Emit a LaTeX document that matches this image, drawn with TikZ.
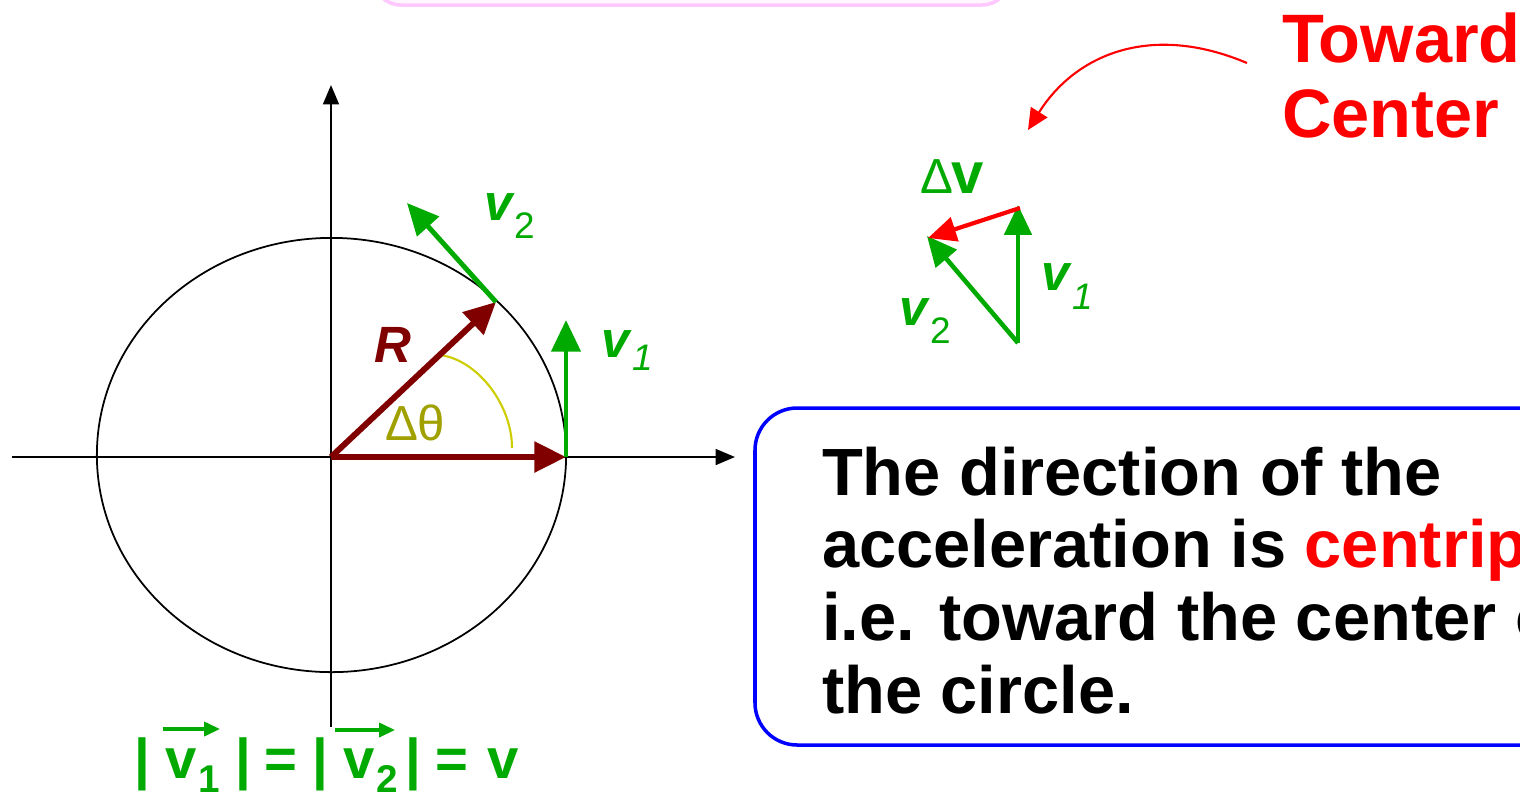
\documentclass[tikz,border=0pt]{standalone}
\usepackage{fontspec}
\setmainfont{Liberation Sans}
\usetikzlibrary{arrows.meta}
\definecolor{vgreen}{RGB}{0,170,0}
\definecolor{maroon}{RGB}{128,0,0}
\definecolor{vred}{RGB}{255,0,0}
\definecolor{olive}{RGB}{160,160,0}
\definecolor{arcyel}{RGB}{205,205,0}
\definecolor{boxblue}{RGB}{0,0,255}
\definecolor{pinkline}{RGB}{255,200,255}
\definecolor{pinkfill}{RGB}{255,246,255}
\begin{document}
\begin{tikzpicture}[x=0.01cm,y=-0.01cm,
  lbl/.style={inner sep=0pt,outer sep=0pt,anchor=base west},
  axis/.style={line width=0.6pt,-{Triangle[length=5.5pt,width=4.5pt]}},
  radvec/.style={maroon,line width=1.7pt,-{Triangle[length=9pt,width=8.5pt]}},
  gvec/.style={vgreen,line width=1.4pt,-{Triangle[length=9pt,width=8.2pt]}},
  svec/.style={vgreen,line width=1.3pt,-{Triangle[length=8.5pt,width=7.7pt]}},
  dvec/.style={vred,line width=1.2pt,-{Triangle[length=8pt,width=7pt]}},
  vlab/.style={lbl,vgreen,font=\fontsize{14.5}{17}\selectfont\bfseries\itshape},
  vsub/.style={lbl,vgreen,font=\fontsize{10.5}{12}\selectfont\itshape},
  vsubup/.style={lbl,vgreen,font=\fontsize{10.5}{12}\selectfont},
  boxtext/.style={lbl,font=\fontsize{19}{20.5}\selectfont\bfseries},
  redhead/.style={lbl,vred,font=\fontsize{19.5}{21}\selectfont\bfseries},
  eqtext/.style={lbl,vgreen,font=\fontsize{16}{18}\selectfont\bfseries},
  eqsub/.style={lbl,vgreen,font=\fontsize{11}{13}\selectfont\bfseries},
  bar/.style={inner sep=0pt,outer sep=0pt,anchor=base,vgreen,font=\fontsize{16}{18}\selectfont\bfseries},
  overarrow/.style={vgreen,line width=0.9pt,-{Triangle[length=4.5pt,width=4pt]}}
]
\useasboundingbox (0,0) rectangle (1520,793);
\clip (0,0) rectangle (1520,793);
\fill[white] (0,0) rectangle (1520,793);

% top pink box (only its lower edge is visible)
\draw[pinkline,line width=1pt,fill=pinkfill,rounded corners=8pt] (373,-80) rectangle (1010,5);

% axes
\coordinate (xl) at (12,457);
\coordinate (xr) at (735,457);
\coordinate (yb) at (331,727);
\coordinate (yt) at (331,85);
\draw[axis] (xl) -- (xr);
\draw[axis] (yb) -- (yt);

% circle
\coordinate (C) at (331.5,455);
\draw[black,line width=0.5pt] (C) ellipse [x radius=2.345cm, y radius=2.17cm];

% radius vectors
\coordinate (O) at (331,457);
\coordinate (P1) at (566,457);
\coordinate (P2) at (496,302);
\coordinate (V1t) at (566,320);
\coordinate (V2t) at (407,203);
\coordinate (A0) at (512,448);
\coordinate (A1) at (440,355);
\draw[arcyel,line width=0.6pt] (A0) .. controls (512,405) and (478,360) .. (A1);
\draw[radvec] (O) -- (P1);
\draw[radvec] (O) -- (P2);
\draw[gvec] (P1) -- (V1t);
\draw[gvec] (P2) -- (V2t);

\node[lbl,maroon,font=\fontsize{14.5}{16}\selectfont\bfseries\itshape] (Rl) at (374,362) {R};
\node[lbl,olive,font=\fontsize{14}{16}\selectfont] (dth) at (385,440) {Δθ};
\node[vlab] (v2c) at (484,220) {v};
\node[vsubup] (v2cs) at (514,238) {2};
\node[vlab] (v1c) at (601,357) {v};
\node[vsub] (v1cs) at (632,370) {1};

% vector triangle
\coordinate (B) at (1018,343);
\coordinate (T1) at (1018,205);
\coordinate (T1d) at (1020,208);
\coordinate (T2) at (927,236);
\coordinate (T2d) at (928,238);
\draw[svec] (B) -- (T1);
\draw[svec] (B) -- (T2);
\draw[dvec] (T1d) -- (T2d);
\node[lbl,vgreen,font=\fontsize{14}{16}\selectfont] (dl) at (920,193) {Δ};
\node[lbl,vgreen,font=\fontsize{16.5}{19}\selectfont\bfseries] (dvl) at (951,193) {v};
\node[vlab] (v1s) at (1041,290) {v};
\node[vsub] (v1ss) at (1072,309) {1};
\node[vlab] (v2s) at (899,325) {v};
\node[vsubup] (v2ss) at (930,343) {2};

% Toward Center
\node[redhead] (tw) at (1282,62) {Toward};
\node[redhead] (ct) at (1282,137) {Center};
\coordinate (cs) at (1247,63);
\coordinate (ce) at (1028,130);
\draw[vred,line width=0.6pt,-{Triangle[length=6pt,width=5.5pt]}] (cs) .. controls (1150,22) and (1075,55) .. (ce);

% blue box
\draw[boxblue,line width=1pt,rounded corners=12pt] (755,408) rectangle (1600,745);
\node[boxtext] (l1) at (822,495) {The direction of the};
\node[boxtext] (l2) at (822,567) {acceleration is \textcolor{vred}{centripetal,}};
\node[boxtext] (l3) at (822,640) {i.e. toward the center of};
\node[boxtext] (l4) at (822,713) {the circle.};

% |v1| = |v2| = v
\node[bar] (b1) at (142,778) {|};
\node[eqtext] (ev1) at (166,778) {v};
\node[eqsub] (ev1s) at (199,792) {1};
\node[bar] (b2) at (243,778) {|};
\node[bar] (eq1) at (281,778) {=};
\node[bar] (b3) at (320,778) {|};
\node[eqtext] (ev2) at (343,778) {v};
\node[eqsub] (ev2s) at (376,792) {2};
\node[bar] (b4) at (413,778) {|};
\node[bar] (eq2) at (452,778) {=};
\node[eqtext] (ev) at (487,778) {v};
\coordinate (oa1) at (163,729);
\coordinate (oa1e) at (220,729);
\coordinate (oa2) at (335,730);
\coordinate (oa2e) at (395,730);
\draw[overarrow] (oa1) -- (oa1e);
\draw[overarrow] (oa2) -- (oa2e);
\end{tikzpicture}
\end{document}
